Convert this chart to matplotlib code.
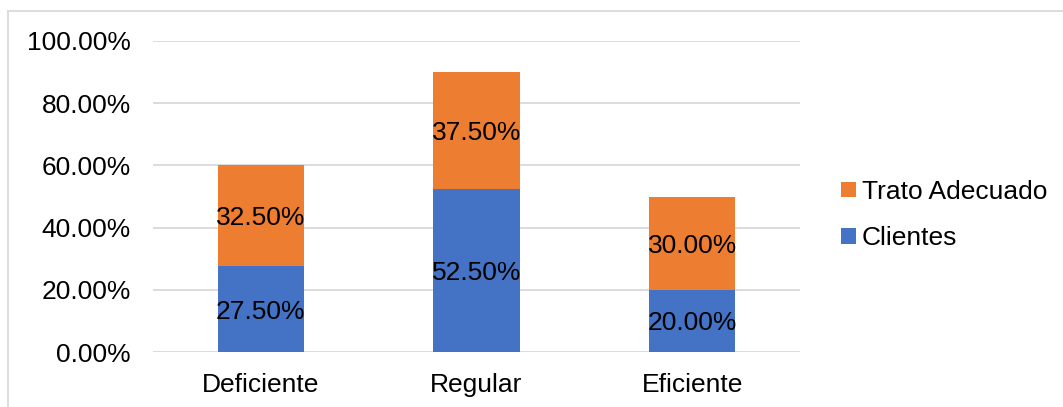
import matplotlib.pyplot as plt
from matplotlib.lines import Line2D
import numpy as np

categories = ["Deficiente", "Regular", "Eficiente"]
clientes = [0.275, 0.525, 0.20]
trato = [0.325, 0.375, 0.30]
yticks = [0.0, 0.2, 0.4, 0.6, 0.8, 1.0]

blue = "#4472C4"
orange = "#ED7D31"
grid_col = "#D9D9D9"

plt.rcParams['font.family'] = ['Liberation Sans', 'DejaVu Sans']
fs = 19

W, H = 1063, 407
fig = plt.figure(figsize=(W / 100, H / 100), dpi=100)
ax = fig.add_axes([153 / W, 1 - 352 / H, (800 - 153) / W, (352 - 41) / H])

x = np.arange(len(categories))
b1 = ax.bar(x, clientes, width=0.4, color=blue, label="Clientes", zorder=2)
b2 = ax.bar(x, trato, width=0.4, bottom=clientes, color=orange,
            label="Trato Adecuado", zorder=2)

for vals, base in [(clientes, [0] * 3), (trato, clientes)]:
    for xi, v, b in zip(x, vals, base):
        ax.text(xi, b + v / 2, f"{v * 100:.2f}%", ha="center",
                va="center_baseline", fontsize=fs, color="black", zorder=3)

ax.set_xlim(-0.5, 2.5)
ax.set_ylim(0, 1.0)
ax.set_yticks(yticks)
ax.set_yticklabels([f"{t * 100:.2f}%" for t in yticks], fontsize=fs)
ax.set_xticks(x)
ax.set_xticklabels(categories, fontsize=fs)
ax.tick_params(axis='y', length=0, pad=16)
ax.tick_params(axis='x', length=0, pad=15)
ax.yaxis.grid(True, color=grid_col, linewidth=1.3, zorder=0)
ax.set_axisbelow(True)
for s in ax.spines.values():
    s.set_visible(False)

handles = [b2, b1]
leg = fig.legend(handles, ["Trato Adecuado", "Clientes"], loc="center left",
                 bbox_to_anchor=(841 / W, 1 - 215 / H), frameon=False,
                 fontsize=fs, handlelength=0.55, handleheight=0.55,
                 handletextpad=0.25, labelspacing=0.85,
                 borderpad=0, borderaxespad=0)

# chart area border (partially cropped)
fig.add_artist(Line2D([8 / W, 1], [1 - 11 / H, 1 - 11 / H],
                      transform=fig.transFigure, color=grid_col, lw=1.3))
fig.add_artist(Line2D([8 / W, 8 / W], [0, 1 - 11 / H],
                      transform=fig.transFigure, color=grid_col, lw=1.3))

fig.savefig("out.png", dpi=100)
